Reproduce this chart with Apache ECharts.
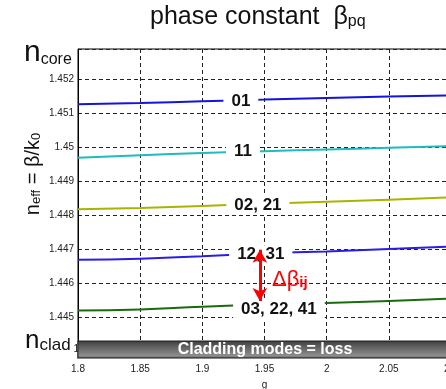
<!DOCTYPE html>
<html>
<head>
<meta charset="utf-8">
<script src="https://cdn.jsdelivr.net/npm/echarts@6.0.0/dist/echarts.min.js"></script>
<style>
  html, body { margin: 0; padding: 0; background: #fff; }
  #chart { width: 446px; height: 389px; }
</style>
</head>
<body>
<div id="chart"></div>
<script>
// normalized frequency g on x, effective index on y
const gValues = [1.8, 1.85, 1.9, 1.95, 2.0, 2.05, 2.1];

const mode01 = [1.45127, 1.45131, 1.45136, 1.45141, 1.45146, 1.4515, 1.45153];
const mode11 = [1.4497, 1.44977, 1.44984, 1.44989, 1.44994, 1.44999, 1.45004];
const mode02_21 = [1.44818, 1.44822, 1.44828, 1.44834, 1.4484, 1.44846, 1.44853];
const mode12_31 = [1.44669, 1.44672, 1.4468, 1.44688, 1.44694, 1.44701, 1.44708];
const mode03_22_41 = [1.4452, 1.44523, 1.44531, 1.44537, 1.44542, 1.44548, 1.44555];

const modeNames = ['01', '11', '02, 21', '12, 31', '03, 22, 41'];
const modeColors = ['#1414dc', '#1ebcbc', '#a8b400', '#2a1ee6', '#1a6a10'];
// where each mode name sits on its curve [g, n_eff]
const modeLabelAt = [[1.931, 1.45136], [1.9327, 1.44989], [1.9447, 1.4483], [1.947, 1.44684], [1.9616, 1.44522]];

// delta-beta arrow between 12,31 and 03,22,41
const arrowG = 1.9463;
const arrowFrom = 1.44699;
const arrowTo = 1.44548;
const deltaLabelAt = [1.9704, 1.44614];

const yMin = 1.4438;  // n_clad
const yMax = 1.4529;  // n_core

const chart = echarts.init(document.getElementById('chart'));
const font = 'Liberation Sans, Arial, sans-serif';

const allModes = [mode01, mode11, mode02_21, mode12_31, mode03_22_41];

const series = allModes.map((vals, i) => ({
  name: modeNames[i],
  type: 'line',
  data: gValues.map((g, j) => [g, vals[j]]),
  showSymbol: false,
  smooth: true,
  lineStyle: { color: modeColors[i], width: 2 },
  itemStyle: { color: modeColors[i] },
  z: 3,
  markPoint: {
    symbol: 'rect',
    symbolSize: 1,
    itemStyle: { color: 'rgba(0,0,0,0)' },
    z: 6,
    label: {
      show: true,
      position: 'inside',
      formatter: modeNames[i],
      color: '#111',
      fontFamily: font,
      fontWeight: 'bold',
      fontSize: 17,
      backgroundColor: '#fff',
      padding: [1, 8]
    },
    data: [{ coord: modeLabelAt[i] }]
  }
}));

// red arrow + delta beta label
series.push({
  type: 'line',
  data: [],
  markLine: {
    silent: true,
    symbol: ['arrow', 'arrow'],
    symbolSize: [11, 13],
    label: { show: false },
    lineStyle: { color: '#ff0000', width: 3, type: 'solid' },
    z: 7,
    data: [[{ coord: [arrowG, arrowFrom] }, { coord: [arrowG, arrowTo] }]]
  },
  markPoint: {
    symbol: 'rect',
    symbolSize: 1,
    itemStyle: { color: 'rgba(0,0,0,0)' },
    z: 7,
    label: {
      show: true,
      position: 'inside',
      formatter: '{d|Δβ}{s|ij}',
      rich: {
        d: { fontSize: 22, color: '#ff0000', fontFamily: font, lineHeight: 24, verticalAlign: 'bottom' },
        s: { fontSize: 15, color: '#ff0000', fontFamily: font, fontWeight: 'bold', lineHeight: 10, verticalAlign: 'bottom' }
      }
    },
    data: [{ coord: deltaLabelAt }]
  }
});

const option = {
  backgroundColor: '#fff',
  animation: false,
  grid: {
    left: 78, top: 49, right: -5, bottom: 31,
    outerBoundsMode: 'none', containLabel: false,
    show: true, borderColor: '#000', borderWidth: 1
  },
  xAxis: {
    type: 'value',
    min: 1.8,
    max: 2.1,
    interval: 0.05,
    name: 'g',
    nameLocation: 'middle',
    nameGap: 22,
    nameTextStyle: { fontSize: 10, color: '#222', fontFamily: font },
    axisLine: { show: true, lineStyle: { color: '#000' } },
    axisTick: { show: false },
    axisLabel: { fontSize: 10, color: '#222', fontFamily: font, margin: 6 },
    splitLine: { show: true, lineStyle: { color: '#222', type: [4, 3], width: 1 } }
  },
  yAxis: {
    type: 'value',
    min: yMin,
    max: yMax,
    splitNumber: 9,
    axisLine: { show: true, lineStyle: { color: '#000' } },
    axisTick: { show: false },
    axisLabel: {
      fontSize: 10, color: '#222', fontFamily: font, margin: 4,
      showMinLabel: false, showMaxLabel: false,
      formatter: v => {
        const r = Math.round(v * 1000) / 1000;
        if (Math.abs(v - r) > 1e-7 || r < 1.4445) return '';
        return String(r);
      }
    },
    splitLine: { show: true, lineStyle: { color: '#222', type: [4, 3], width: 1 } }
  },
  graphic: [
    {
      type: 'text', left: 150, top: 5, z: 10,
      style: {
        text: '{m|phase constant  β}{s|pq}',
        rich: {
          m: { fontSize: 25, fontFamily: font, fill: '#111', lineHeight: 28, verticalAlign: 'bottom' },
          s: { fontSize: 16, fontFamily: font, fill: '#111', lineHeight: 12, verticalAlign: 'bottom' }
        }
      }
    },
    {
      type: 'text', x: 31, y: 174, rotation: Math.PI / 2, z: 10,
      style: {
        text: '{m|n}{s|eff}{m| = β/k}{s|0}',
        align: 'center', verticalAlign: 'middle',
        rich: {
          m: { fontSize: 20, fontFamily: font, fill: '#111', lineHeight: 24, verticalAlign: 'bottom' },
          s: { fontSize: 13, fontFamily: font, fill: '#111', lineHeight: 10, verticalAlign: 'bottom' }
        }
      }
    },
    {
      type: 'text', left: 24, top: 38, z: 10,
      style: {
        text: '{m|n}{s|core}',
        rich: {
          m: { fontSize: 30, fontFamily: font, fill: '#111', lineHeight: 30, verticalAlign: 'bottom' },
          s: { fontSize: 16, fontFamily: font, fill: '#111', lineHeight: 14, verticalAlign: 'bottom' }
        }
      }
    },
    {
      type: 'text', left: 25, top: 328, z: 10,
      style: {
        text: '{m|n}{s|clad}{t| 1.}',
        rich: {
          m: { fontSize: 26, fontFamily: font, fill: '#111', lineHeight: 26, verticalAlign: 'bottom' },
          s: { fontSize: 17, fontFamily: font, fill: '#111', lineHeight: 14, verticalAlign: 'bottom' },
          t: { fontSize: 10, fontFamily: font, fill: '#222', lineHeight: 16, verticalAlign: 'bottom' }
        }
      }
    },
    {
      type: 'rect', z: 20,
      shape: { x: 78, y: 341, width: 372, height: 17 },
      style: {
        fill: new echarts.graphic.LinearGradient(0, 0, 0, 1, [
          { offset: 0, color: '#2a2a2a' },
          { offset: 0.12, color: '#4a4a4a' },
          { offset: 0.85, color: '#8e8e8e' },
          { offset: 1, color: '#5a5a5a' }
        ]),
        stroke: '#222', lineWidth: 1
      }
    },
    {
      type: 'text', x: 265, y: 358, z: 21,
      style: {
        text: 'Cladding modes = loss',
        fill: '#fff',
        font: 'bold 16px Liberation Sans, Arial, sans-serif',
        textAlign: 'center', textVerticalAlign: 'bottom'
      }
    },
    {
      type: 'rect', z: 22,
      shape: { x: 78, y: 358.5, width: 372, height: 2.5 },
      style: { fill: '#fff' }
    }
  ],
  series: series
};

chart.setOption(option);
</script>
</body>
</html>
